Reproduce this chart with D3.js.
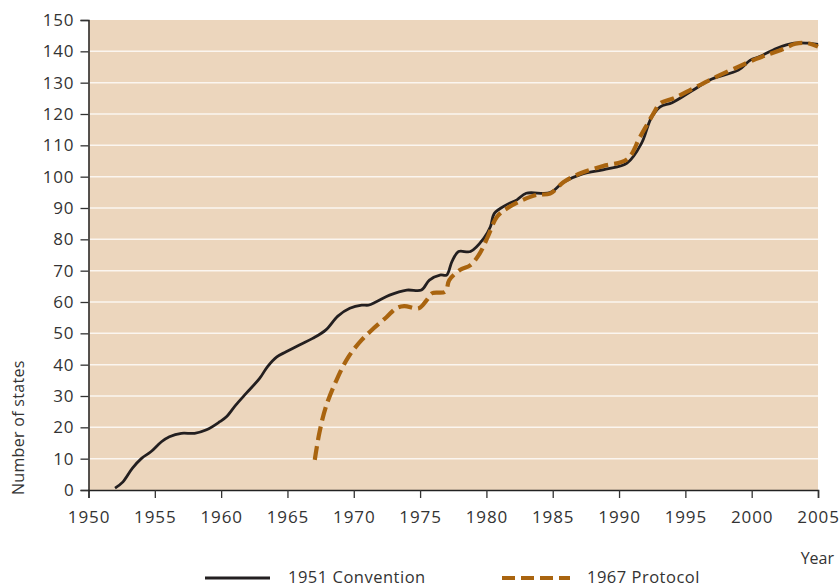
<!DOCTYPE html>
<html>
<head>
<meta charset="utf-8">
<script src="https://cdn.jsdelivr.net/npm/d3@7"></script>
<style>
  body { margin: 0; background: #fff; }
  svg text { font-family: "Open Sans", "Liberation Sans", sans-serif; fill: #333; }
</style>
</head>
<body>
<svg id="chart" width="839" height="588"></svg>
<script>
// 1951 Convention - number of states party
var convYears = [1952, 1952.6, 1953.3, 1954, 1954.7, 1955.5, 1956.1, 1957, 1958, 1958.9, 1959.9, 1960.4, 1961.1, 1961.9, 1962.9, 1963.5, 1964.2, 1964.9, 1965.9, 1966.9, 1967.9, 1968.8, 1969.7, 1970.6, 1971.1, 1971.7, 1972.7, 1974, 1975.1, 1975.7, 1976.5, 1977, 1977.4, 1977.9, 1978.8, 1979.8, 1980.3, 1980.6, 1981.5, 1982.3, 1983, 1984.8, 1985.8, 1987.2, 1989, 1990.6, 1991.7, 1992.4, 1993.1, 1994, 1995.5, 1997, 1999, 1999.9, 2000.6, 2001.9, 2003.2, 2004.2, 2005];
var convValues = [0.6, 2.6, 6.9, 10.1, 12.2, 15.4, 17, 18.1, 18.1, 19.2, 21.8, 23.4, 27.1, 30.9, 35.6, 39.4, 42.5, 44.1, 46.3, 48.4, 51.1, 55.5, 58, 59, 59, 60.1, 62.2, 63.8, 63.8, 67, 68.6, 68.6, 72.9, 76.1, 76.1, 80.3, 84, 88.3, 91, 92.6, 94.7, 94.9, 98.2, 100.8, 102.4, 104.3, 110.7, 118.5, 122.3, 123.6, 127.4, 131.2, 134, 137.2, 138.3, 141, 142.6, 142.6, 142.2];

// 1967 Protocol
var protYears = [1967.06, 1967.4, 1967.9, 1968.7, 1969.6, 1970.6, 1971.5, 1972.5, 1973.2, 1973.8, 1974.9, 1975.5, 1975.9, 1976.9, 1977.2, 1978, 1978.8, 1979.5, 1980.1, 1980.8, 1981.6, 1982.7, 1983.8, 1984.8, 1985.8, 1987.1, 1988.8, 1990.6, 1991.6, 1992.6, 1993.1, 1994.1, 1995.6, 1997.1, 1999.1, 2000.3, 2001.1, 2002.2, 2003.3, 2004.2, 2005];
var protValues = [9.6, 18.1, 26.6, 35.1, 42.5, 47.9, 51.6, 55.3, 58, 58.7, 58, 60.6, 62.8, 63.3, 67, 70.2, 71.8, 75.5, 80.8, 87.2, 90, 92.5, 94.2, 94.6, 98.2, 101.1, 103.4, 105.5, 112.8, 120.2, 123.4, 125, 128.2, 131.4, 135.3, 137.5, 138.8, 140.4, 142.4, 142.6, 141.5];

var xTicks = [1950, 1955, 1960, 1965, 1970, 1975, 1980, 1985, 1990, 1995, 2000, 2005];
var yTicks = [0, 10, 20, 30, 40, 50, 60, 70, 80, 90, 100, 110, 120, 130, 140, 150];

var plotLeft = 88.5, plotRight = 818, plotTop = 20, plotBottom = 490;

var svg = d3.select("#chart");

var x = d3.scaleLinear().domain([1950, 2005]).range([plotLeft, plotRight]);
var y = d3.scaleLinear().domain([0, 150]).range([plotBottom, plotTop]);

// plot background
svg.append("rect")
    .attr("x", plotLeft)
    .attr("y", plotTop)
    .attr("width", plotRight - plotLeft)
    .attr("height", plotBottom - plotTop)
    .attr("fill", "#ecd6bd");

// white gridlines
svg.append("g")
    .selectAll("line")
    .data(yTicks.filter(d => d > 0 && d < 150))
    .enter()
    .append("line")
    .attr("x1", plotLeft)
    .attr("x2", plotRight)
    .attr("y1", d => y(d))
    .attr("y2", d => y(d))
    .attr("stroke", "#fbf6f0")
    .attr("stroke-width", 1.5);

// axes
var xAxis = svg.append("g")
    .attr("transform", "translate(0," + plotBottom + ")")
    .call(d3.axisBottom(x).tickValues(xTicks).tickFormat(d3.format("d")).tickSize(8).tickPadding(13));
var yAxis = svg.append("g")
    .attr("transform", "translate(" + plotLeft + ",0)")
    .call(d3.axisLeft(y).tickValues(yTicks).tickSize(8).tickPadding(6));

[xAxis, yAxis].forEach(function (a) {
    a.select(".domain").attr("stroke", "#222").attr("stroke-width", 1.5);
    a.selectAll(".tick line").attr("stroke", "#333").attr("stroke-width", 1.3);
    a.selectAll(".tick text")
        .style("font-size", "17px")
        .style("letter-spacing", "0.9px")
        .attr("fill", "#333");
});

var line = d3.line()
    .x(d => x(d[0]))
    .y(d => y(d[1]))
    .curve(d3.curveCatmullRom.alpha(0.5));

var conv = convYears.map((yr, i) => [yr, convValues[i]]);
var prot = protYears.map((yr, i) => [yr, protValues[i]]);

svg.append("path")
    .datum(conv)
    .attr("d", line)
    .attr("fill", "none")
    .attr("stroke", "#231f20")
    .attr("stroke-width", 2.8);

svg.append("path")
    .datum(prot)
    .attr("d", line)
    .attr("fill", "none")
    .attr("stroke", "#a9640f")
    .attr("stroke-width", 4.2)
    .attr("stroke-dasharray", "14,6");

// axis titles
svg.append("text")
    .attr("transform", "translate(24,495) rotate(-90)")
    .attr("text-anchor", "start")
    .style("font-size", "16px")
    .style("letter-spacing", "0.3px")
    .text("Number of states");

svg.append("text")
    .attr("x", 834)
    .attr("y", 564)
    .attr("text-anchor", "end")
    .style("font-size", "16px")
    .text("Year");

// legend
var legend = svg.append("g");
legend.append("line")
    .attr("x1", 205).attr("x2", 270)
    .attr("y1", 578).attr("y2", 578)
    .attr("stroke", "#231f20")
    .attr("stroke-width", 3);
legend.append("text")
    .attr("x", 288).attr("y", 583)
    .style("font-size", "16.5px")
    .style("letter-spacing", "0.5px")
    .text("1951 Convention");
legend.append("line")
    .attr("x1", 502).attr("x2", 570)
    .attr("y1", 578).attr("y2", 578)
    .attr("stroke", "#a9640f")
    .attr("stroke-width", 4)
    .attr("stroke-dasharray", "13,6");
legend.append("text")
    .attr("x", 587).attr("y", 583)
    .style("font-size", "16.5px")
    .style("letter-spacing", "0.5px")
    .text("1967 Protocol");
</script>
</body>
</html>
